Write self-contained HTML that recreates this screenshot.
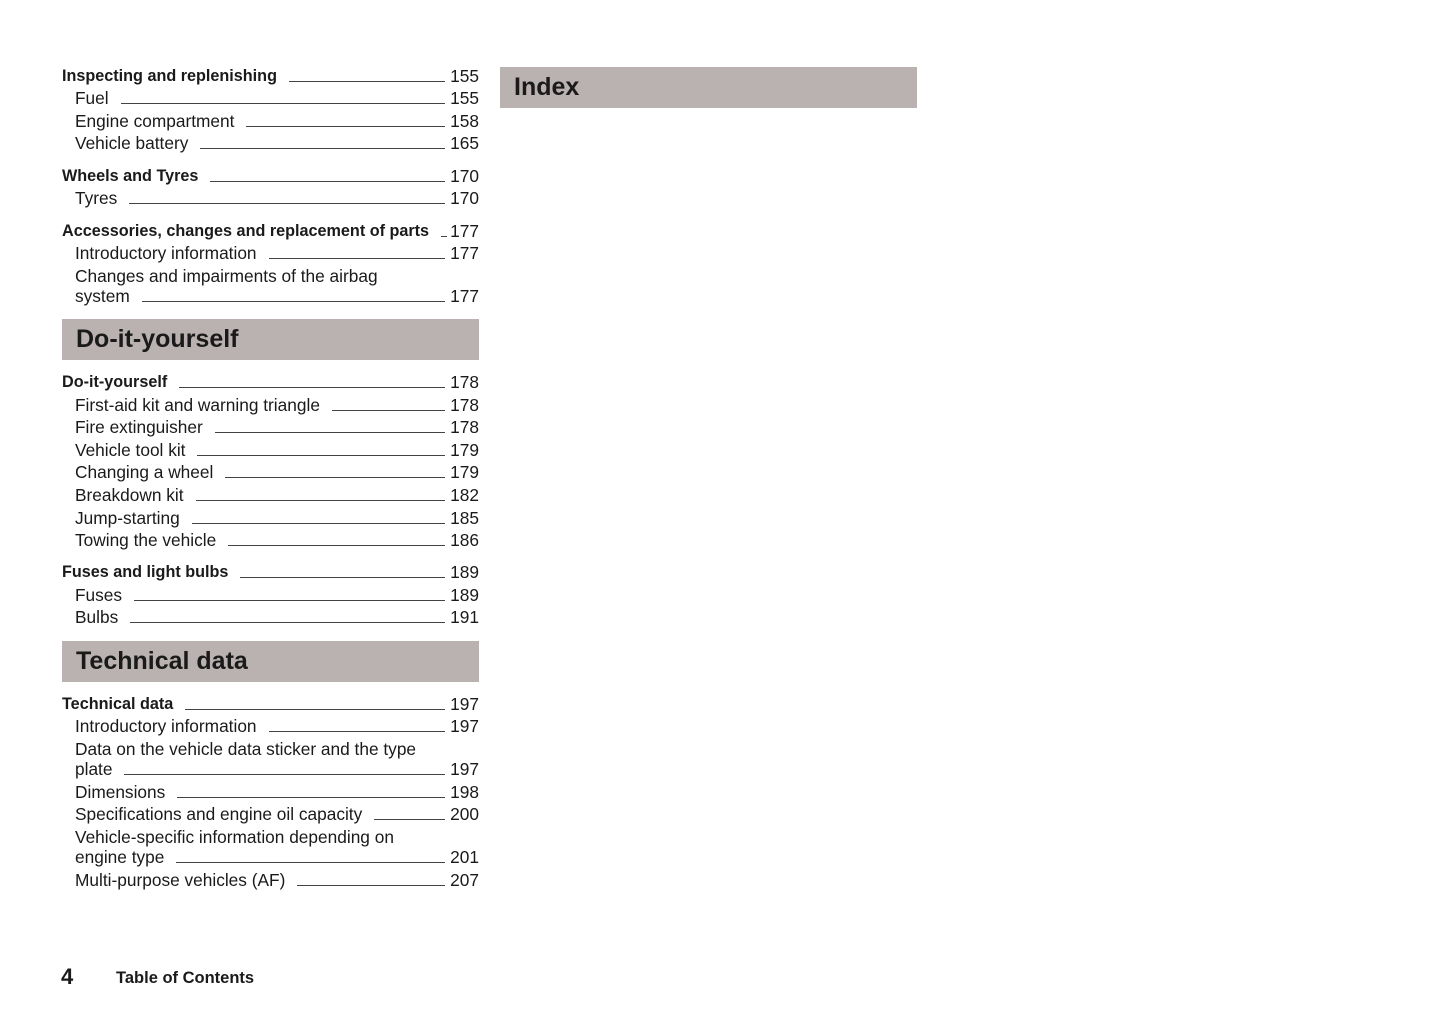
<!DOCTYPE html>
<html><head><meta charset="utf-8"><style>
body{margin:0;width:1445px;height:1019px;background:#fff;position:relative;font-family:"Liberation Sans",sans-serif;color:#1a1a1a;overflow:hidden}
.r{position:absolute;left:75px;width:370px;height:22px;line-height:22px;font-size:17.3px;display:flex;align-items:flex-start;white-space:nowrap;margin-top:1px}
.r.b{left:62px;width:383px;font-weight:bold;font-size:16.2px}
.l{flex:1;min-width:6px;height:16px;border-bottom:1px solid #444;margin-left:12px}
.n{position:absolute;right:966px;width:40px;text-align:right;font-size:17.3px;height:22px;line-height:22px;margin-top:1px}
.x{position:absolute;left:75px;font-size:17.3px;line-height:22px;white-space:nowrap;margin-top:1px}
.box{position:absolute;background:#bab2b0;height:41px;font-weight:bold;font-size:25px;line-height:41px;padding-left:14px;box-sizing:border-box}
</style></head><body>
<div class="r b" style="top:64px"><span>Inspecting and replenishing</span><span class="l"></span></div><div class="n" style="top:64px">155</div>
<div class="r" style="top:86px"><span>Fuel</span><span class="l"></span></div><div class="n" style="top:86px">155</div>
<div class="r" style="top:109px"><span>Engine compartment</span><span class="l"></span></div><div class="n" style="top:109px">158</div>
<div class="r" style="top:131px"><span>Vehicle battery</span><span class="l"></span></div><div class="n" style="top:131px">165</div>
<div class="r b" style="top:164px"><span>Wheels and Tyres</span><span class="l"></span></div><div class="n" style="top:164px">170</div>
<div class="r" style="top:186px"><span>Tyres</span><span class="l"></span></div><div class="n" style="top:186px">170</div>
<div class="r b" style="top:219px"><span>Accessories, changes and replacement of parts</span><span class="l"></span></div><div class="n" style="top:219px">177</div>
<div class="r" style="top:241px"><span>Introductory information</span><span class="l"></span></div><div class="n" style="top:241px">177</div>
<div class="x" style="top:264px">Changes and impairments of the airbag</div>
<div class="r" style="top:284px"><span>system</span><span class="l"></span></div><div class="n" style="top:284px">177</div>
<div class="box" style="left:62px;top:319px;width:417px">Do-it-yourself</div>
<div class="r b" style="top:370px"><span>Do-it-yourself</span><span class="l"></span></div><div class="n" style="top:370px">178</div>
<div class="r" style="top:393px"><span>First-aid kit and warning triangle</span><span class="l"></span></div><div class="n" style="top:393px">178</div>
<div class="r" style="top:415px"><span>Fire extinguisher</span><span class="l"></span></div><div class="n" style="top:415px">178</div>
<div class="r" style="top:438px"><span>Vehicle tool kit</span><span class="l"></span></div><div class="n" style="top:438px">179</div>
<div class="r" style="top:460px"><span>Changing a wheel</span><span class="l"></span></div><div class="n" style="top:460px">179</div>
<div class="r" style="top:483px"><span>Breakdown kit</span><span class="l"></span></div><div class="n" style="top:483px">182</div>
<div class="r" style="top:506px"><span>Jump-starting</span><span class="l"></span></div><div class="n" style="top:506px">185</div>
<div class="r" style="top:528px"><span>Towing the vehicle</span><span class="l"></span></div><div class="n" style="top:528px">186</div>
<div class="r b" style="top:560px"><span>Fuses and light bulbs</span><span class="l"></span></div><div class="n" style="top:560px">189</div>
<div class="r" style="top:583px"><span>Fuses</span><span class="l"></span></div><div class="n" style="top:583px">189</div>
<div class="r" style="top:605px"><span>Bulbs</span><span class="l"></span></div><div class="n" style="top:605px">191</div>
<div class="box" style="left:62px;top:641px;width:417px">Technical data</div>
<div class="r b" style="top:692px"><span>Technical data</span><span class="l"></span></div><div class="n" style="top:692px">197</div>
<div class="r" style="top:714px"><span>Introductory information</span><span class="l"></span></div><div class="n" style="top:714px">197</div>
<div class="x" style="top:737px">Data on the vehicle data sticker and the type</div>
<div class="r" style="top:757px"><span>plate</span><span class="l"></span></div><div class="n" style="top:757px">197</div>
<div class="r" style="top:780px"><span>Dimensions</span><span class="l"></span></div><div class="n" style="top:780px">198</div>
<div class="r" style="top:802px"><span>Specifications and engine oil capacity</span><span class="l"></span></div><div class="n" style="top:802px">200</div>
<div class="x" style="top:825px">Vehicle-specific information depending on</div>
<div class="r" style="top:845px"><span>engine type</span><span class="l"></span></div><div class="n" style="top:845px">201</div>
<div class="r" style="top:868px"><span>Multi-purpose vehicles (AF)</span><span class="l"></span></div><div class="n" style="top:868px">207</div>
<div class="box" style="left:500px;top:67px;width:417px">Index</div>
<div style="position:absolute;left:61px;top:964px;font-size:22px;font-weight:bold;line-height:26px">4</div>
<div style="position:absolute;left:116px;top:967px;font-size:16.5px;font-weight:bold;line-height:22px">Table of Contents</div>
</body></html>
